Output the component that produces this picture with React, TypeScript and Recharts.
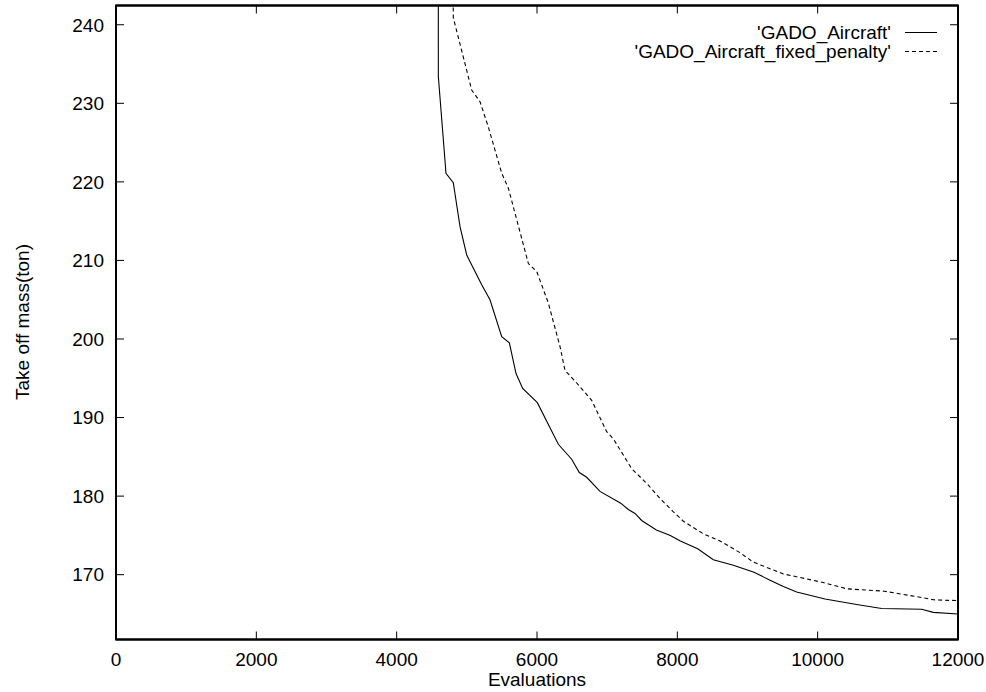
import React from 'react';
import { LineChart, Line, XAxis, YAxis, Legend, ReferenceArea } from 'recharts';

// evaluations vs take-off mass (ton)
const gadoX = [4593, 4594, 4703, 4807, 4903, 4998, 5212, 5330, 5497, 5606, 5701, 5796, 6005, 6304, 6494, 6603, 6708, 6898, 7193, 7301, 7397, 7492, 7701, 7900, 8043, 8290, 8513, 8798, 9093, 9321, 9511, 9701, 10105, 10556, 10912, 11482, 11648, 12000];
const gadoY = [260, 233.4, 221.1, 219.9, 214.3, 210.7, 206.9, 205.0, 200.3, 199.5, 195.6, 193.7, 191.9, 186.6, 184.7, 183.0, 182.4, 180.6, 179.1, 178.3, 177.8, 176.9, 175.7, 175.0, 174.3, 173.3, 171.9, 171.2, 170.3, 169.3, 168.5, 167.8, 166.9, 166.2, 165.7, 165.6, 165.2, 165.0];

const fixedX = [4790, 4807, 5069, 5188, 5306, 5497, 5592, 5877, 5996, 6161, 6329, 6399, 6566, 6779, 6993, 7088, 7349, 7587, 7754, 7944, 8086, 8371, 8608, 8893, 9083, 9511, 10081, 10414, 10950, 11480, 11650, 12000];
const fixedY = [260, 240.9, 231.7, 230.2, 227.0, 221.1, 219.2, 209.6, 208.6, 204.6, 199.0, 196.0, 194.4, 192.2, 188.2, 187.3, 183.5, 181.4, 179.7, 178.0, 176.8, 175.2, 174.3, 172.8, 171.6, 170.1, 169.0, 168.2, 167.9, 167.1, 166.8, 166.7];

const xTicks = [0, 2000, 4000, 6000, 8000, 10000, 12000];
const yTicks = [170, 180, 190, 200, 210, 220, 230, 240];

const seriesNames = ["'GADO_Aircraft'", "'GADO_Aircraft_fixed_penalty'"];

const gadoData = gadoX.map((x, i) => ({ x, y: gadoY[i] }));
const fixedData = fixedX.map((x, i) => ({ x, y: fixedY[i] }));

const FONT = "'Liberation Sans', Arial, Helvetica, sans-serif";
const FS = 19;
const TICK = 8;
const X_DOMAIN: [number, number] = [0, 12000];
const Y_DOMAIN: [number, number] = [161.75, 242.45];

// gnuplot style: ticks point inward, labels outside
const BottomTick = (p: any) => (
  <g>
    <line x1={p.x} x2={p.x} y1={p.y} y2={p.y - TICK} stroke="#000" strokeWidth={1} />
    <text x={p.x} y={p.y + 26.5} textAnchor="middle" fill="#000" fontSize={FS} fontFamily={FONT}>
      {p.payload.value}
    </text>
  </g>
);
const TopTick = (p: any) => (
  <line x1={p.x} x2={p.x} y1={p.y} y2={p.y + TICK} stroke="#000" strokeWidth={1} />
);
const LeftTick = (p: any) => (
  <g>
    <line x1={p.x} x2={p.x + TICK} y1={p.y} y2={p.y} stroke="#000" strokeWidth={1} />
    <text x={p.x - 12} y={p.y + 6.8} textAnchor="end" fill="#000" fontSize={FS} fontFamily={FONT}>
      {p.payload.value}
    </text>
  </g>
);
const RightTick = (p: any) => (
  <line x1={p.x} x2={p.x - TICK} y1={p.y} y2={p.y} stroke="#000" strokeWidth={1} />
);

function KeyBox() {
  return (
    <div style={{ fontFamily: FONT, fontSize: FS, color: '#000' }}>
      {seriesNames.map((name, i) => (
        <div key={name} style={{ display: 'flex', justifyContent: 'flex-end', alignItems: 'center', height: 19 }}>
          <span style={{ lineHeight: '19px', whiteSpace: 'nowrap' }}>{name}</span>
          <svg width={32} height={19} style={{ marginLeft: 14 }}>
            <line x1={0} x2={32} y1={9.5} y2={9.5} stroke="#000" strokeWidth={1} strokeDasharray={i === 1 ? '4 3' : undefined} />
          </svg>
        </div>
      ))}
    </div>
  );
}

const axisLine = { stroke: '#000', strokeWidth: 1.8 };

export default function App() {
  return (
    <div style={{ position: 'absolute', left: 0, top: 0, background: '#fff' }}>
      <LineChart width={986} height={692} margin={{ top: 4.5, right: 27, left: 0, bottom: 0 }}>
        <XAxis
          xAxisId="bottom"
          dataKey="x"
          type="number"
          domain={X_DOMAIN}
          ticks={xTicks}
          height={52.5}
          tickSize={0}
          tickMargin={0}
          tickLine={false}
          tick={BottomTick}
          axisLine={axisLine}
          allowDataOverflow
          label={{
            content: () => (
              <text x={537} y={685.7} textAnchor="middle" fill="#000" fontSize={FS} fontFamily={FONT}>Evaluations</text>
            ),
          }}
        />
        <XAxis
          xAxisId="top"
          orientation="top"
          dataKey="x"
          type="number"
          domain={X_DOMAIN}
          ticks={xTicks}
          height={1}
          tickSize={0}
          tickMargin={0}
          tickLine={false}
          tick={TopTick}
          axisLine={axisLine}
          allowDataOverflow
        />
        <YAxis
          yAxisId="left"
          type="number"
          domain={Y_DOMAIN}
          ticks={yTicks}
          width={116}
          tickSize={0}
          tickMargin={0}
          tickLine={false}
          tick={LeftTick}
          axisLine={axisLine}
          allowDataOverflow
          label={{
            content: () => (
              <text x={28.5} y={322} transform="rotate(-90 28.5 322)" textAnchor="middle" fill="#000" fontSize={FS} fontFamily={FONT}>
                Take off mass(ton)
              </text>
            ),
          }}
        />
        <YAxis
          yAxisId="right"
          orientation="right"
          type="number"
          domain={Y_DOMAIN}
          ticks={yTicks}
          width={1}
          tickSize={0}
          tickMargin={0}
          tickLine={false}
          tick={RightTick}
          axisLine={axisLine}
          allowDataOverflow
        />
        <ReferenceArea
          xAxisId="bottom"
          yAxisId="left"
          x1={X_DOMAIN[0]}
          x2={X_DOMAIN[1]}
          y1={Y_DOMAIN[0]}
          y2={Y_DOMAIN[1]}
          fill="none"
          fillOpacity={0}
          stroke="#000"
          strokeWidth={1.8}
        />
        <Legend
          layout="vertical"
          align="center"
          verticalAlign="middle"
          content={() => <KeyBox />}
          wrapperStyle={{ position: 'absolute', top: 23, left: 537, width: 400, height: 38 }}
        />
        <Line
          xAxisId="bottom"
          yAxisId="left"
          data={gadoData}
          dataKey="y"
          name={seriesNames[0]}
          type="linear"
          stroke="#000"
          strokeWidth={1.1}
          dot={false}
          activeDot={false}
          isAnimationActive={false}
        />
        <Line
          xAxisId="bottom"
          yAxisId="left"
          data={fixedData}
          dataKey="y"
          name={seriesNames[1]}
          type="linear"
          stroke="#000"
          strokeWidth={1.1}
          strokeDasharray="4 3"
          dot={false}
          activeDot={false}
          isAnimationActive={false}
        />
      </LineChart>
    </div>
  );
}
